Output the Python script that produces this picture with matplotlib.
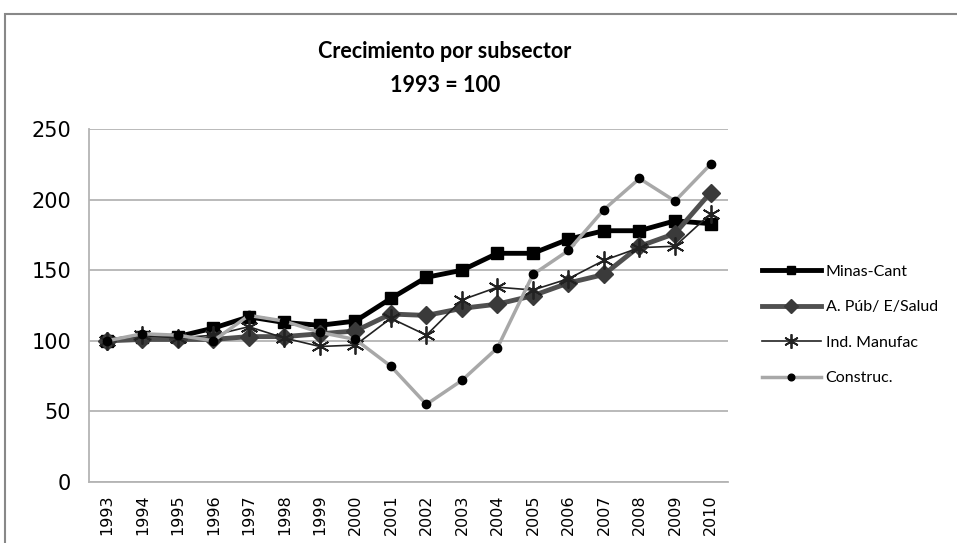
import matplotlib.pyplot as plt
import matplotlib.patches as mpatches
import numpy as np

years = [str(y) for y in range(1993, 2011)]
minas = [100, 103, 103, 109, 117, 113, 111, 114, 130, 145, 150, 162, 162, 172, 178, 178, 185, 183]
apub = [100, 101, 101, 101, 103, 103, 105, 107, 119, 118, 123, 126, 132, 141, 147, 167, 176, 205]
manuf = [100, 104, 102, 104, 110, 102, 96, 97, 116, 104, 129, 138, 136, 144, 157, 166, 167, 190]
constr = [100, 105, 104, 100, 118, 114, 106, 101, 82, 55, 72, 95, 147, 164, 193, 215, 199, 225]

plt.rcParams['font.family'] = ['Lato', 'DejaVu Sans']

fig = plt.figure(figsize=(9.57, 5.43), dpi=100)
ax = fig.add_axes([0.093, 0.1123, 0.668, 0.65])

x = np.arange(len(years))
ax.plot(x, minas, color='black', lw=3.5, marker='s', ms=8, label='Minas-Cant', zorder=3)
ax.plot(x, apub, color='#505050', lw=3.5, marker='D', ms=9, mfc='#3a3a3a', mec='#3a3a3a',
        label='A. Púb/ E/Salud', zorder=4)
ax.plot(x, manuf, color='#222222', lw=1.2, marker=(6, 2, 0), ms=13, mew=1.3,
        label='Ind. Manufac', zorder=5)
ax.plot(x, constr, color='#a8a8a8', lw=2.5, marker='o', ms=6, mfc='black', mec='black',
        label='Construc.', zorder=6)

ax.set_xlim(-0.5, len(years) - 0.5)
ax.set_ylim(0, 250)
ax.set_yticks(range(0, 251, 50))
ax.set_xticks(x)
ax.set_xticklabels(years, rotation=90, fontsize=11.5, family=['DejaVu Sans'])
ax.tick_params(axis='y', labelsize=15, length=0, pad=13)
ax.tick_params(axis='x', length=0, pad=9)
for t in ax.get_yticklabels():
    t.set_family(['DejaVu Sans'])
ax.grid(axis='y', color='#b4b4b4', lw=1.3)
ax.set_axisbelow(True)
for s in ['top', 'right']:
    ax.spines[s].set_visible(False)
for s in ['left', 'bottom']:
    ax.spines[s].set_color('#b4b4b4')
    ax.spines[s].set_linewidth(1.3)

fig.text(0.465, 0.905, 'Crecimiento por subsector', ha='center', va='center',
         fontsize=15.5, fontweight='bold')
fig.text(0.465, 0.843, '1993 = 100', ha='center', va='center',
         fontsize=15.5, fontweight='bold')

ax.legend(loc='upper left', bbox_to_anchor=(1.03, 0.656), frameon=False,
          fontsize=11.5, handlelength=3.7, labelspacing=1.33, handletextpad=0.3,
          markerscale=0.8)

fig.patches.append(mpatches.Rectangle((0.005, -0.1), 1.1, 1.074, transform=fig.transFigure,
                                      fill=False, edgecolor='#888888', lw=1.5))

plt.savefig('out.png', dpi=100)
